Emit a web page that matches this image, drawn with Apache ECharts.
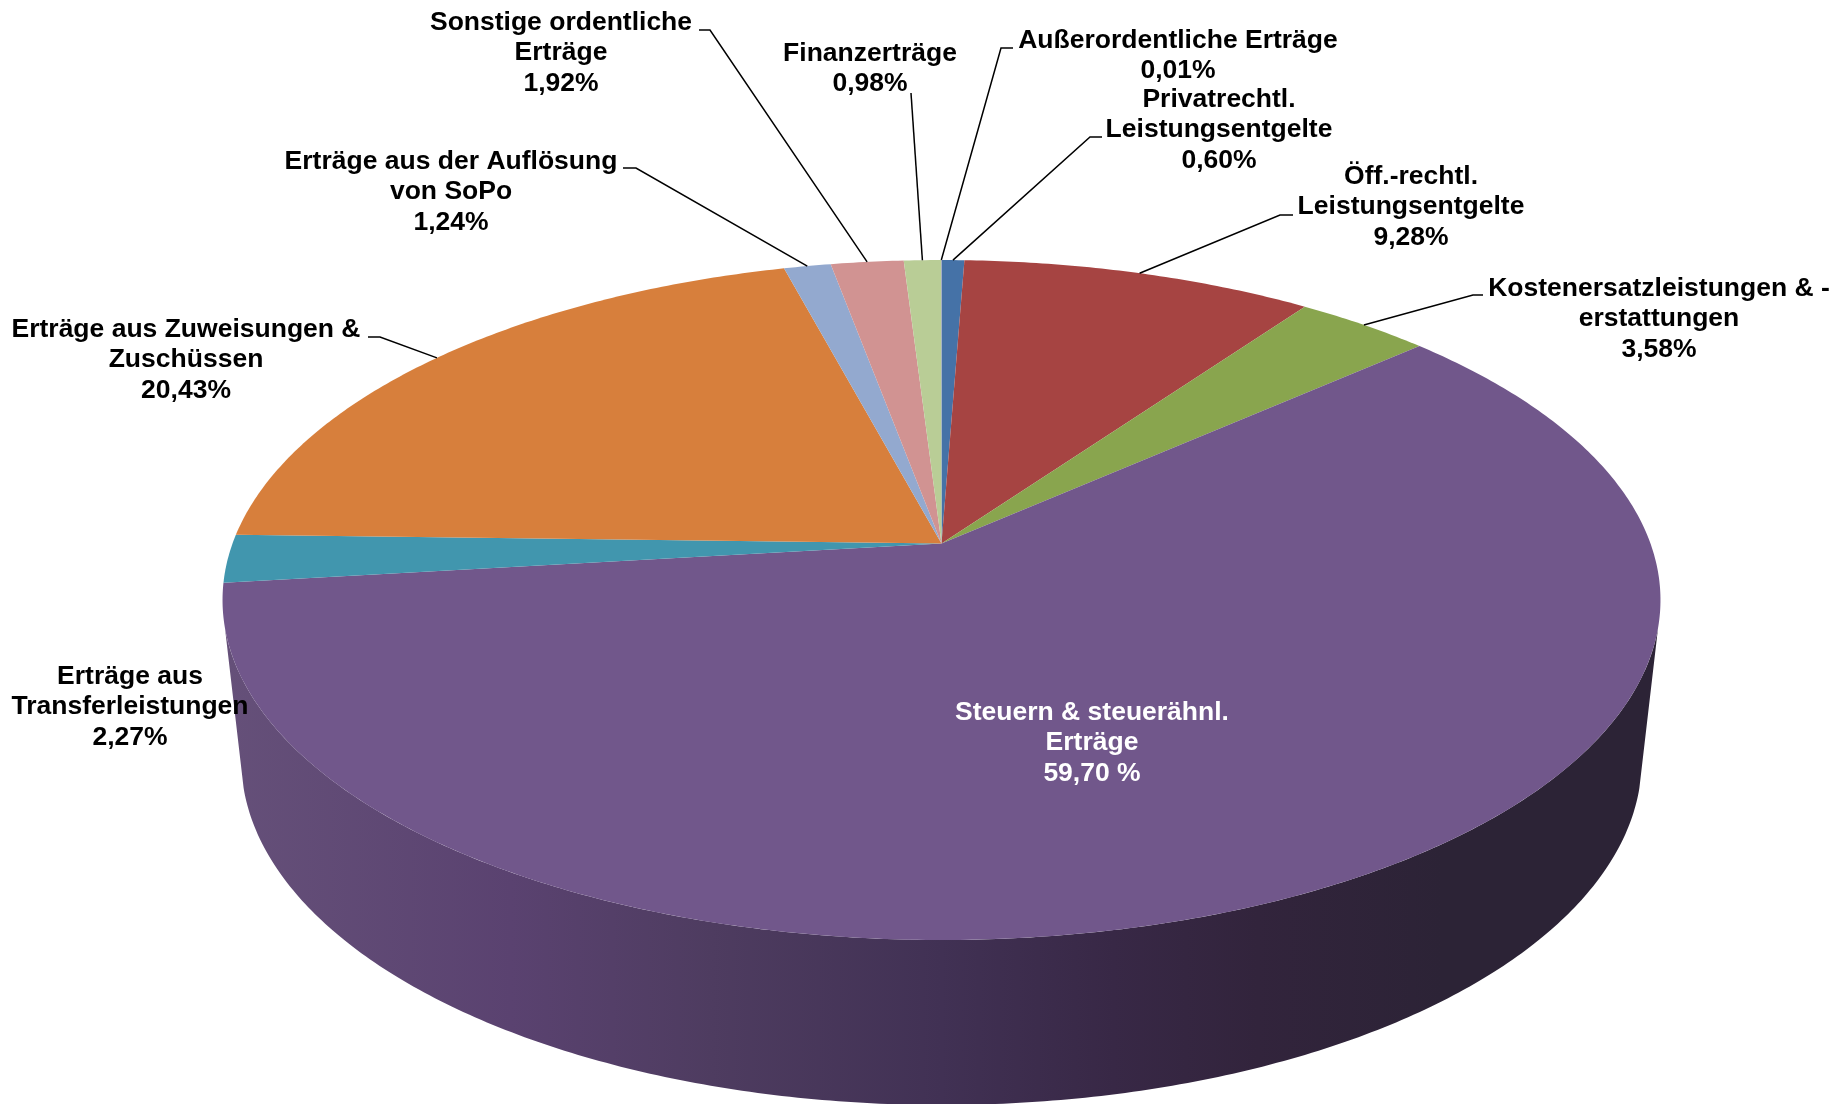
<!DOCTYPE html>
<html>
<head>
<meta charset="utf-8">
<title>Erträge</title>
<style>
html, body { margin: 0; padding: 0; background: #fff; }
#main { width: 1845px; height: 1104px; }
</style>
<script src="https://cdn.jsdelivr.net/npm/echarts@6/dist/echarts.min.js"></script>
</head>
<body>
<div id="main"></div>
<script>
// values, clockwise from 12 o'clock
var categories = ['Privatrechtl.\nLeistungsentgelte', 'Öff.-rechtl.\nLeistungsentgelte', 'Kostenersatzleistungen & -\nerstattungen',
	'Steuern & steuerähnl.\nErträge', 'Erträge aus\nTransferleistungen', 'Erträge aus Zuweisungen &\nZuschüssen',
	'Erträge aus der Auflösung\nvon SoPo', 'Sonstige ordentliche\nErträge', 'Finanzerträge', 'Außerordentliche Erträge'];
var values = [0.60, 9.28, 3.58, 59.70, 2.27, 20.43, 1.24, 1.92, 0.98, 0.01];
var valueLabels = ['0,60%', '9,28%', '3,58%', '59,70 %', '2,27%', '20,43%', '1,24%', '1,92%', '0,98%', '0,01%'];
var colors = ['#4572a7', '#a64442', '#89a54e', '#71578b', '#4196ae', '#d77f3c', '#93a9cf', '#d19392', '#b9cd96', '#a99bbd'];

// label centres (first line) and leader line elbows, null = no leader
var labelPos = [[1219, 98], [1411, 175], [1659, 287], [1092, 711], [130, 675], [186, 328], [451, 160], [561, 21], [870, 52], [1178, 39]];
var leaders = [
	[[1090, 137], [1102, 137]],
	[[1280, 215], [1293, 215]],
	[[1473, 295], [1483, 295]],
	null,
	null,
	[[380, 337], [368, 337]],
	[[636, 168], [623, 168]],
	[[710, 30], [699, 30]],
	[[911, 93]],
	[[1001, 48], [1013, 48]]
];

// perspective disc: top face and base of the cylinder
var persp = 0.166;
var topFace = {cx: 941.5, cy: 543.6, rx: 709, ry: 330.6};
var baseFace = {cx: 941.5, cy: 702.7, rx: 690.5, ry: 335.5};

var total = values.reduce(function (a, b) { return a + b; }, 0);
var starts = [];
values.reduce(function (a, b, i) { starts[i] = a; return a + b; }, 0);

function project(face, phi) {
	var w = 1 + persp * Math.cos(phi);
	return [face.cx + face.rx * Math.sin(phi) / w, face.cy - face.ry * Math.cos(phi) / w];
}

function arc(face, from, to) {
	var pts = [];
	var n = Math.max(2, Math.ceil(Math.abs(to - from) / 0.01));
	for (var i = 0; i <= n; i++) {
		pts.push(project(face, from + (to - from) * i / n));
	}
	return pts;
}

// the base is narrower, so the wall edge touches just below the widest point
var wallFrom = Math.acos(-persp) + 0.08;
var wallTo = 2 * Math.PI - wallFrom;
var wallFill = new echarts.graphic.LinearGradient(0, 0, 1, 0, [
	{offset: 0, color: '#655079'},
	{offset: 0.2, color: '#5a4270'},
	{offset: 0.34, color: '#4e3c60'},
	{offset: 0.5, color: '#413154'},
	{offset: 0.62, color: '#382846'},
	{offset: 0.72, color: '#32243c'},
	{offset: 0.85, color: '#2c2336'},
	{offset: 1, color: '#2c2336'}
]);

function renderSlice(params, api) {
	var i = params.dataIndex;
	var a0 = starts[i] / total * 2 * Math.PI;
	var a1 = a0 + api.value(0) / total * 2 * Math.PI;
	var mid = (a0 + a1) / 2;
	var children = [];

	var w0 = Math.max(a0, wallFrom), w1 = Math.min(a1, wallTo);
	if (w1 > w0) {
		children.push({
			type: 'polygon',
			shape: {points: arc(topFace, w0, w1).concat(arc(baseFace, w0, w1).reverse())},
			style: {fill: wallFill}
		});
	}

	children.push({
		type: 'polygon',
		shape: {points: [[topFace.cx, topFace.cy]].concat(arc(topFace, a0, a1))},
		style: {fill: colors[i]}
	});

	if (leaders[i]) {
		children.push({
			type: 'polyline',
			shape: {points: [project(topFace, mid)].concat(leaders[i])},
			style: {stroke: '#000', lineWidth: 1.5, fill: null}
		});
	}

	children.push({
		type: 'text',
		x: labelPos[i][0],
		y: labelPos[i][1] - 14,
		style: {
			text: categories[i] + '\n' + valueLabels[i],
			fill: i === 3 ? '#fff' : '#000',
			font: 'bold 26.5px "Liberation Sans", Arial, sans-serif',
			lineHeight: 30.6,
			align: 'center',
			verticalAlign: 'top'
		}
	});

	return {type: 'group', children: children};
}

var myChart = echarts.init(document.getElementById('main'));

var option = {
	backgroundColor: '#fff',
	animation: false,
	series: [{
		type: 'custom',
		coordinateSystem: 'none',
		renderItem: renderSlice,
		data: values.map(function (v) { return [v]; })
	}]
};

myChart.setOption(option);
</script>
</body>
</html>
